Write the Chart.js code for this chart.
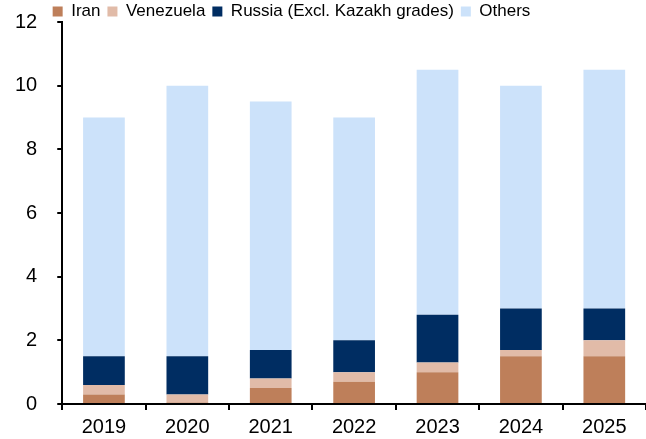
<!DOCTYPE html>
<html><head><meta charset="utf-8">
<script src="https://cdn.jsdelivr.net/npm/chart.js@4"></script>
<style>html,body{margin:0;padding:0;background:#fff}#wrap{width:646px;height:439px}</style>
</head><body><div id="wrap"><canvas id="c" width="646" height="439"></canvas></div>
<script>
const categories = ["2019","2020","2021","2022","2023","2024","2025"];
const iran = [0.3, 0.05, 0.5, 0.7, 1.0, 1.5, 1.5];
const venezuela = [0.3, 0.25, 0.3, 0.3, 0.3, 0.2, 0.5];
const russia = [0.9, 1.2, 0.9, 1.0, 1.5, 1.3, 1.0];
const others = [7.5, 8.5, 7.8, 7.0, 7.7, 7.0, 7.5];
const yTicks = [0,2,4,6,8,10,12];

const fam = "'Liberation Sans', Arial, sans-serif";
const legendFont = {family: fam, size: 17};
const tickFont = {family: fam, size: 20};
function ds(label, data, color){
  return {label, data, backgroundColor: color, borderWidth: 0, barPercentage: 0.5, categoryPercentage: 1.0};
}
const legendShift = {
  id: 'legendShift',
  afterLayout(chart){
    const l = chart.legend;
    if (l) { l.left -= 29; l.right -= 29; }
  }
};
new Chart(document.getElementById('c'), {
  type: 'bar',
  data: {
    labels: categories,
    datasets: [
      ds("Iran", iran, "#BE7F5A"),
      ds("Venezuela", venezuela, "#E1BBA8"),
      ds("Russia (Excl. Kazakh grades)", russia, "#002D62"),
      ds("Others", others, "#CCE2FA")
    ]
  },
  plugins: [legendShift],
  options: {
    responsive: false,
    animation: false,
    layout: {padding: {left: -5, right: 0, top: -4, bottom: -5}},
    plugins: {
      legend: {
        position: 'top',
        align: 'center',
        maxHeight: 26,
        labels: {font: legendFont, color: '#000', boxWidth: 10, boxHeight: 10, padding: 7}
      },
      tooltip: {enabled: false}
    },
    scales: {
      x: {
        stacked: true,
        grid: {display: true, drawOnChartArea: false, drawTicks: true, tickLength: 6, color: '#000', lineWidth: 2, offset: true},
        border: {display: true, color: '#000', width: 2},
        ticks: {font: tickFont, color: '#000', padding: 5, maxRotation: 0}
      },
      y: {
        stacked: true,
        min: 0, max: 12,
        afterBuildTicks: (axis) => { axis.ticks = yTicks.map(v => ({value: v})); },
        afterFit: (scale) => { scale.paddingTop = 0; scale.paddingBottom = 0; },
        grid: {display: true, drawOnChartArea: false, drawTicks: true, tickLength: 5, color: '#000', lineWidth: 2},
        border: {display: true, color: '#000', width: 2},
        ticks: {font: tickFont, color: '#000', padding: 20}
      }
    }
  }
});
</script></body></html>
